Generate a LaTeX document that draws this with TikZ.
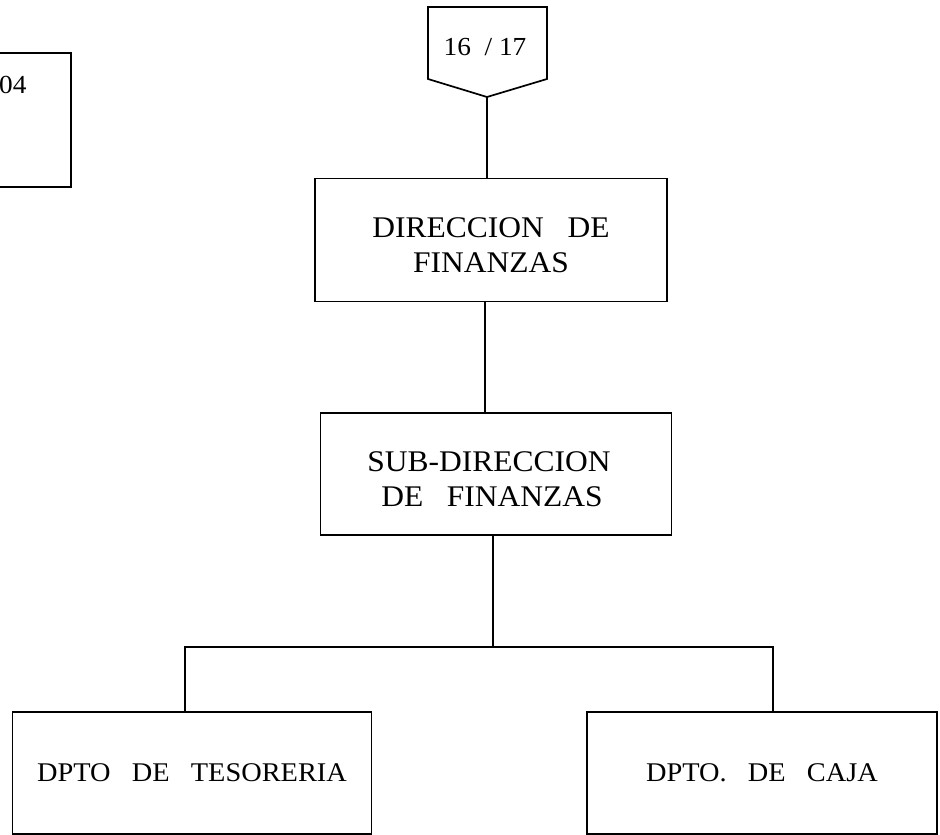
\documentclass[tikz,border=0pt]{standalone}
\usepackage{fontspec}
\setmainfont{Liberation Serif}[FakeStretch=1.05]
\usepackage{tikz}
\usetikzlibrary{positioning,calc}
\newcommand{\topgap}{\rule{0pt}{30pt}}
\tikzset{
  box/.style={draw=black, line width=1.7pt, align=center, inner sep=0pt, font=\fontsize{30}{35}\selectfont},
  deptbox/.style={draw=black, line width=1.7pt, align=center, inner sep=0pt, minimum width=359pt, minimum height=122pt, font=\fontsize{27}{30}\selectfont},
  link/.style={line width=1.7pt}
}
\begin{document}
\begin{tikzpicture}[x=1pt, y=-1pt]
\clip (0,0) rectangle (940,835);
% page connector and reference box
\draw[link] (-40,53) rectangle (71,187);
\node[anchor=base west, inner sep=0pt, font=\fontsize{26}{30}\selectfont] (pagina) at (-1,93) {04};
\draw[link] (428,7) -- (547,7) -- (547,79) -- (487,97) -- (428,79) -- cycle;
\coordinate (tip) at (487,97);
\node[font=\fontsize{26}{30}\selectfont, inner sep=0pt] (conector) at (485,47) {16~~/~17};
% boxes
\node[box, minimum width=352pt, minimum height=123pt] (direccion) at (491,240) {\topgap DIRECCION~~~DE\\FINANZAS};
\node[box, minimum width=351pt, minimum height=122pt] (subdireccion) at (496,474) {\topgap\hspace*{-14pt}SUB-DIRECCION\\\hspace*{-8pt}DE~~~FINANZAS};
\node[deptbox] (tesoreria) at (192,773) {DPTO~~~DE~~~TESORERIA};
\node[deptbox, minimum width=350pt] (caja) at (762,773) {DPTO.~~~DE~~~CAJA};
% connectors
\coordinate (busL) at (185,647);
\coordinate (busR) at (773,647);
\draw[link] (tip) -- (tip |- direccion.north);
\draw[link] ([xshift=-6pt]direccion.south) -- ([xshift=-6pt]direccion.south |- subdireccion.north);
\draw[link] ([xshift=-3pt]subdireccion.south) -- ([xshift=-3pt]subdireccion.south |- busL);
\draw[link] (busL |- tesoreria.north) -- (busL) -- (busR) -- (busR |- caja.north);
\end{tikzpicture}
\end{document}
